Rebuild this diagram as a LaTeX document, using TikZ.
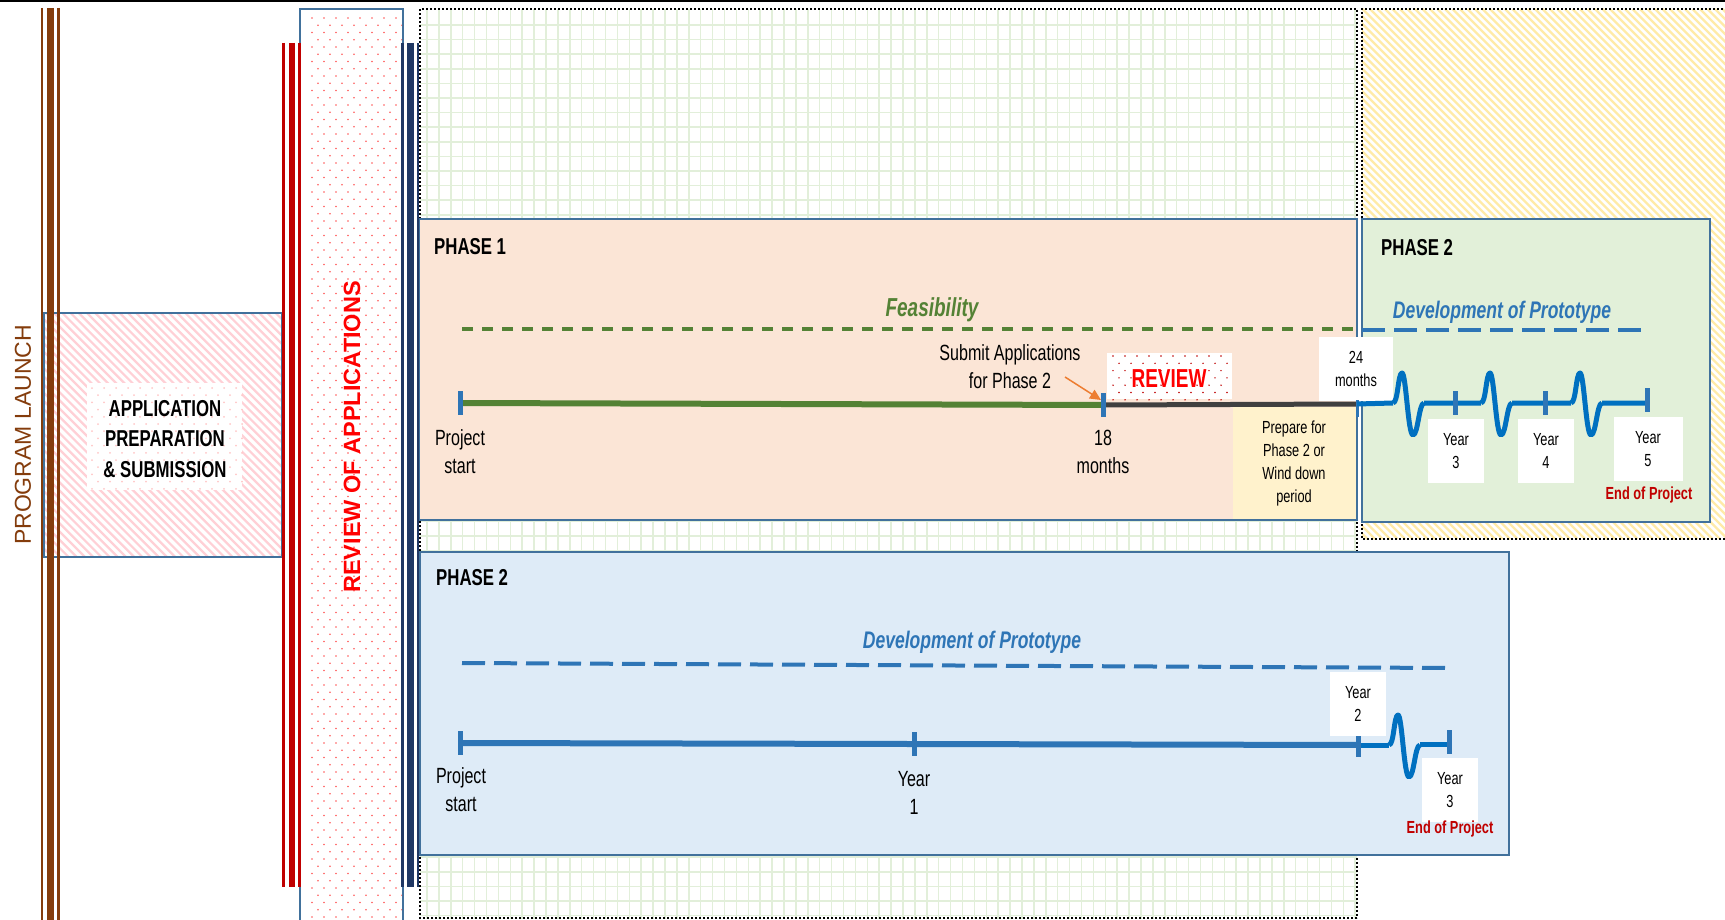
\documentclass[tikz,border=0pt]{standalone}
\usepackage{fontspec}
\setmainfont{Liberation Sans}
\newfontfamily\nar{Liberation Sans}[FakeStretch=0.73]
\usetikzlibrary{arrows.meta}
\newcommand\setfs[2]{\fontsize{#1}{#2}\selectfont}
\definecolor{boxblue}{HTML}{41719C}
\definecolor{peach}{HTML}{FBE5D6}
\definecolor{mint}{HTML}{E2F0D9}
\definecolor{skyfill}{HTML}{DEEBF7}
\definecolor{cream}{HTML}{FFF2CC}
\definecolor{feasgreen}{HTML}{548235}
\definecolor{devblue}{HTML}{2E75B6}
\definecolor{waveblue}{HTML}{0070C0}
\definecolor{darkred}{HTML}{C00000}
\definecolor{brownbar}{HTML}{843C0C}
\definecolor{navybar}{HTML}{203864}
\definecolor{gridgreen}{HTML}{E2EFDA}
\definecolor{hatchyellow}{HTML}{FFEBA8}
\definecolor{hatchpink}{HTML}{FFD0D6}
\definecolor{arrorange}{HTML}{ED7D31}
\definecolor{darkline}{HTML}{404040}

\begin{document}
\begin{tikzpicture}[x=1pt, y=-1pt,
  phasebox/.style={draw=boxblue, line width=2pt},
  dotframe/.style={draw=black, line width=2pt, dash pattern=on 2pt off 2pt},
  gridln/.style={gridgreen, line width=1.5pt},
  lbl/.style={font=\nar\setfs{22}{28}, align=center, inner sep=0pt},
  small/.style={font=\nar\setfs{17.5}{23}, align=center, inner sep=0pt},
  yearbox/.style={small, fill=white, minimum width=56pt, minimum height=64pt},
  title/.style={font=\nar\bfseries\setfs{23}{28}, anchor=west, inner sep=0pt},
  devlbl/.style={font=\nar\bfseries\itshape\setfs{24}{28}, text=devblue, inner sep=0pt},
  endlbl/.style={font=\nar\bfseries\setfs{17.5}{20}, text=darkred, inner sep=0pt},
  tickmark/.pic={\draw[devblue, line width=5pt] (0,-12) -- (0,12);},
  blip/.pic={\draw[waveblue, line width=5pt, line join=round] (0,0) .. controls (5,0) and (5,-30) .. (9,-30) .. controls (13,-30) and (15,32) .. (20,32) .. controls (25,32) and (26,0) .. (31,0);}]
\useasboundingbox (0,0) rectangle (1725,920);
\fill[white] (0,0) rectangle (1725,920);
\draw[line width=2pt] (0,1) -- (1725,1);

% background areas
\begin{scope}
\clip (420,9) rectangle (1357,918);
\foreach \i in {0,...,79} \draw[gridln] ({427+11.9*\i},9) -- ++(0,910);
\foreach \j in {0,...,62} \draw[gridln] (420,{25+14.6*\j}) -- ++(940,0);
\end{scope}
\draw[dotframe] (1357,918) -- (420,918) -- (420,9) -- (1357,9) -- cycle;
\begin{scope}
\clip (1362,9) rectangle (1725,539);
\foreach \i in {0,...,125} \draw[hatchyellow, line width=2.2pt] ({830+7.5*\i},9) -- ++(530,530);
\end{scope}
\draw[dotframe] (1725,539) -- (1362,539) -- (1362,9) -- (1725,9);

\draw[phasebox, fill=peach] (419,219) rectangle (1357,520);
\draw[phasebox, fill=mint] (1362,219) rectangle (1710,522);
\draw[phasebox, fill=skyfill] (420,552) rectangle (1509,855);
\fill[cream] (1233,407) rectangle (1356,519);

% application and review columns
\begin{scope}
\clip (44,313) rectangle (282,557);
\foreach \i in {0,...,60} \draw[hatchpink, line width=2.2pt] ({-200+8.2*\i},313) -- ++(244,244);
\end{scope}
\draw[boxblue, line width=2pt] (44,313) rectangle (282,557);
\fill[white] (87,383) rectangle (242,490);
\foreach \r in {0,...,14} \foreach \c in {0,...,12} \fill[red!22] ({92+12*\c+6*mod(\r,2)},{388+7.2*\r}) circle (1pt);
\fill[white] (300,9) rectangle (403,925);
\foreach \r in {0,...,125} \foreach \c in {0,...,7} \fill[red!65] ({312+12*\c+6*mod(\r,2)},{18+7.25*\r}) circle (0.9pt);
\draw[boxblue, line width=1.5pt] (300,925) -- (300,9) -- (403,9) -- (403,925);

\foreach \x/\w in {42/2.5pt, 50.3/7pt, 58.3/3pt} \draw[brownbar, line width=\w] (\x,8) -- (\x,920);
\foreach \x/\w in {283.3/3pt, 292/6.3pt, 299.7/2.7pt} \draw[darkred, line width=\w] (\x,43) -- (\x,887);
\foreach \x/\w in {402.5/3pt, 410.5/7.6pt, 418/2.6pt} \draw[navybar, line width=\w] (\x,43) -- (\x,887);

\node[rotate=90, font=\setfs{23}{28}, text=brownbar, inner sep=0pt] (launch) at (23,435) {PROGRAM LAUNCH};
\node[font=\nar\bfseries\setfs{23}{30.5}, align=center, inner sep=0pt] (apptext) at (165,439) {APPLICATION\\PREPARATION\\\& SUBMISSION};
\node[rotate=90, font=\bfseries\setfs{23.5}{28}, text=red, inner sep=0pt] (reviewapps) at (352,437) {REVIEW OF APPLICATIONS};

% phase 1
\node[title] (ph1) at (434,247) {PHASE 1};
\node[font=\nar\bfseries\itshape\setfs{26}{28}, text=feasgreen, inner sep=0pt] (feas) at (932,310) {Feasibility};
\coordinate (fs0) at (462,329);
\coordinate (fs1) at (1357,329);
\draw[feasgreen, line width=4pt, dash pattern=on 11pt off 9pt] (fs0) -- (fs1);
\coordinate (t0) at (460,403);
\coordinate (t18) at (1103,405);
\coordinate (t24) at (1357,404);
\draw[feasgreen, line width=6pt] (t0) -- (t18);
\draw[darkline, line width=5pt] (t18) -- (t24);
\pic at (t0) {tickmark};
\pic at (t18) {tickmark};
\node[lbl] (start1) at (460,452) {Project\\start};
\node[lbl] (m18) at (1103,452) {18\\months};
\node[lbl] (submit) at (1010,367) {Submit Applications\\for Phase 2};
\coordinate (subtail) at (1065,377);
\coordinate (subtip) at (1101,400);
\draw[arrorange, line width=1.5pt, -{Triangle[length=11pt,width=10pt]}] (subtail) -- (subtip);
\fill[white] (1107,353) rectangle (1232,399);
\foreach \r in {0,...,6} \foreach \c in {0,...,9} \fill[darkred] ({1113+12*\c+6*mod(\r,2)},{356+7.3*\r}) circle (0.8pt);
\node[font=\nar\bfseries\setfs{26}{28}, text=red, inner sep=0pt] (rev) at (1169,379) {REVIEW};
\node[small, fill=white, minimum width=74pt, minimum height=64pt] (m24) at (1356,369) {24\\months};
\node[small] (prep) at (1294,463) {Prepare for\\Phase 2 or\\Wind down\\period};

% phase 2 (continuation)
\node[title] (ph2) at (1381,248) {PHASE 2};
\node[devlbl] (devtop) at (1502,312) {Development of Prototype};
\coordinate (dv0) at (1362,330);
\coordinate (dv1) at (1648,330);
\draw[devblue, line width=4pt, dash pattern=on 23pt off 9pt] (dv0) -- (dv1);
\draw[devblue, line width=3pt] (1357,400) -- (1357,417);
\coordinate (w1) at (1393,403);
\coordinate (w2) at (1481,403);
\coordinate (w3) at (1571,403);
\coordinate (ty5) at (1647,403);
\draw[waveblue, line width=5pt] (t24) -- (w1) (1424,403) -- (w2) (1512,403) -- (w3) (1602,403) -- (ty5);
\pic at (w1) {blip};
\pic at (w2) {blip};
\pic at (w3) {blip};
\pic at (1455,403) {tickmark};
\pic at (1545,403) {tickmark};
\pic at (1647,400) {tickmark};
\node[yearbox] (y3a) at (1456,451) {Year\\3};
\node[yearbox] (y4a) at (1546,451) {Year\\4};
\node[yearbox, minimum width=69pt] (y5a) at (1648,449) {Year\\5};
\node[endlbl] (enda) at (1649,495) {End of Project};

% phase 2 (direct)
\node[title] (ph2b) at (436,578) {PHASE 2};
\node[devlbl] (devbot) at (972,642) {Development of Prototype};
\coordinate (db0) at (462,663);
\coordinate (db1) at (1450,668);
\draw[devblue, line width=4pt, dash pattern=on 23pt off 9pt] (db0) -- (db1);
\coordinate (b0) at (460,743);
\coordinate (b1) at (914,744);
\coordinate (b2) at (1358,745);
\coordinate (wb) at (1389,745);
\coordinate (b3) at (1449,744);
\draw[devblue, line width=6pt] (b0) -- (b2);
\draw[waveblue, line width=5pt] (b2) -- (wb) (1420,744) -- (b3);
\pic at (wb) {blip};
\pic at (b0) {tickmark};
\pic at (b1) {tickmark};
\pic at (b2) {tickmark};
\pic at (1449,742) {tickmark};
\node[yearbox] (y2b) at (1358,704) {Year\\2};
\node[yearbox] (y3b) at (1450,790) {Year\\3};
\node[endlbl] (endb) at (1450,829) {End of Project};
\node[lbl] (start2) at (461,790) {Project\\start};
\node[lbl] (y1b) at (914,793) {Year\\1};
\end{tikzpicture}
\end{document}
